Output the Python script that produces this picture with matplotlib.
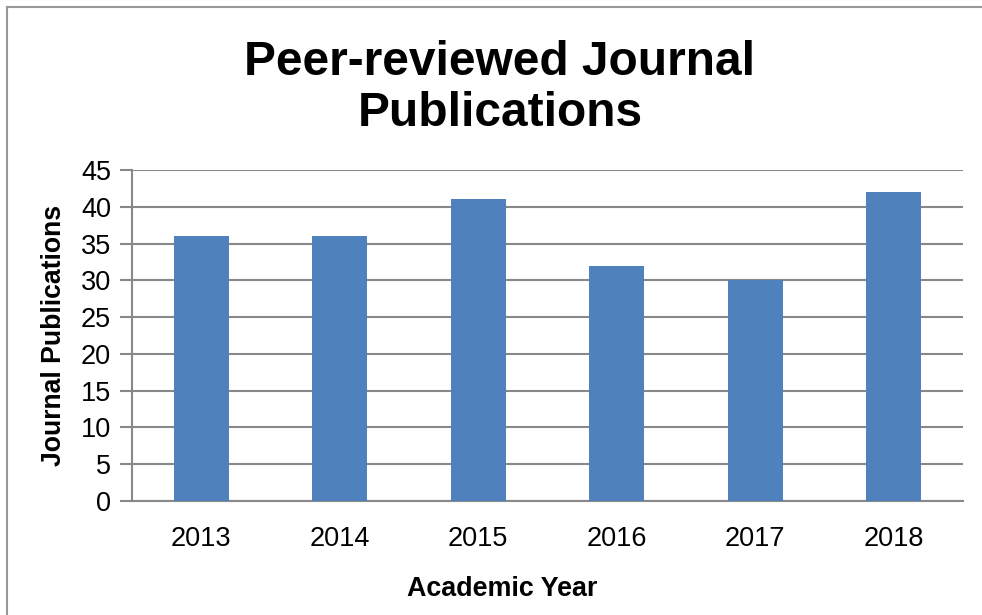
import matplotlib.pyplot as plt
from matplotlib.lines import Line2D

years = ["2013", "2014", "2015", "2016", "2017", "2018"]
publications = [36, 36, 41, 32, 30, 42]
y_ticks = [0, 5, 10, 15, 20, 25, 30, 35, 40, 45]

plt.rcParams["font.family"] = ["Liberation Sans", "DejaVu Sans"]

W, H = 982, 615
fig = plt.figure(figsize=(W / 100, H / 100), dpi=100)
ax = fig.add_axes([132 / W, 1 - 501 / H, (963 - 132) / W, (501 - 170) / H])

x = range(len(years))
ax.bar(x, publications, width=0.4, color="#4F81BD", zorder=3)

ax.set_xlim(-0.5, len(years) - 0.5)
ax.set_ylim(0, 45)
ax.set_yticks(y_ticks)
ax.set_xticks(list(x))
ax.set_xticklabels(years)
ax.tick_params(axis="y", labelsize=19.5, length=9, width=1.5, color="#888888", pad=6)
ax.tick_params(axis="x", labelsize=19.5, length=0, pad=18)
ax.yaxis.grid(True, color="#888888", linewidth=1.5, zorder=0)

for side in ["top", "right"]:
    ax.spines[side].set_visible(False)
for side in ["left", "bottom"]:
    ax.spines[side].set_color("#888888")
    ax.spines[side].set_linewidth(1.5)

ax.set_ylabel("Journal Publications", fontsize=19.2, fontweight="bold", labelpad=10)
fig.text(502.5 / W, 1 - 589 / H, "Academic Year", ha="center", va="center",
         fontsize=19.4, fontweight="bold")

fig.text(500 / W, 1 - 88 / H, "Peer-reviewed Journal\nPublications", ha="center", va="center",
         fontsize=34.5, fontweight="bold", linespacing=1.15)

# outer frame (left and top edges visible)
fig.add_artist(Line2D([7 / W, 7 / W], [0, 1 - 7 / H], transform=fig.transFigure, color="#999999", lw=1.5))
fig.add_artist(Line2D([7 / W, 1], [1 - 7 / H, 1 - 7 / H], transform=fig.transFigure, color="#999999", lw=1.5))

fig.savefig("out.png", dpi=100)
